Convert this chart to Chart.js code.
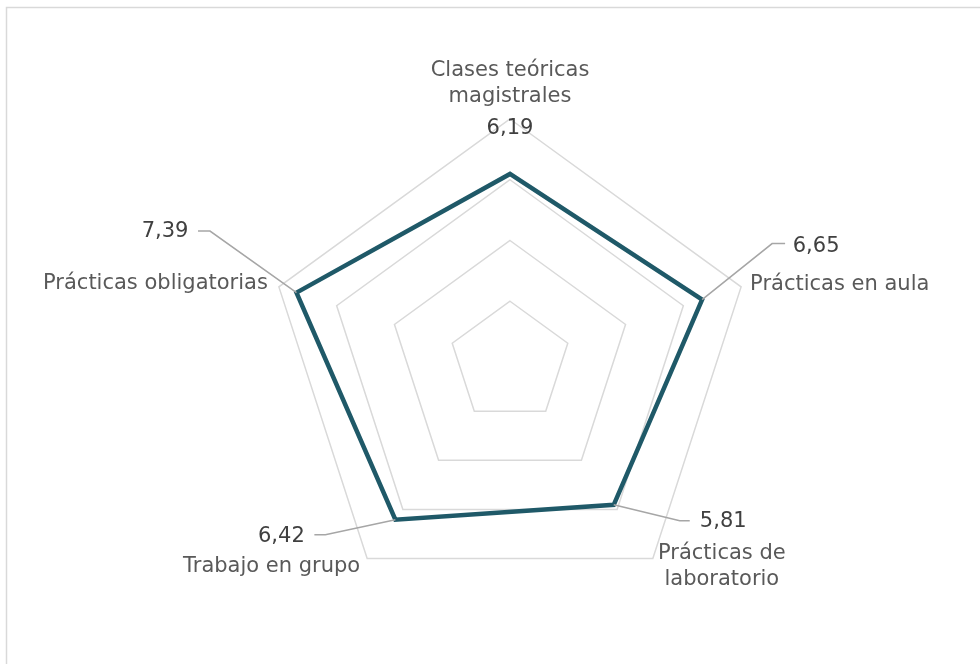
<!DOCTYPE html>
<html>
<head>
<meta charset="utf-8">
<script src="https://cdn.jsdelivr.net/npm/chart.js@4/dist/chart.umd.min.js"></script>
<style>
html,body{margin:0;padding:0;background:#fff;}
#wrap{position:relative;width:980px;height:664px;}
</style>
</head>
<body>
<div id="wrap"><canvas id="c"></canvas></div>
<script>
const categories = [["Clases teóricas","magistrales"],["Prácticas en aula"],["Prácticas de","laboratorio"],["Trabajo en grupo"],["Prácticas obligatorias"]];
const values = [6.19, 6.65, 5.81, 6.42, 7.39];
const valueLabels = ["6,19","6,65","5,81","6,42","7,39"];
const scaleMin = 0, scaleMax = 8, scaleStep = 2;

const FONT = '21px "DejaVu Sans", Verdana, sans-serif';

// label placement (style): value label offset from data point, leader elbow, category label offset from outer vertex
const valueLabelCfg = [
  {dx:0, dy:-45, leader:null},
  {dx:114, dy:-53, leader:[[70,-56],[83,-56]]},
  {dx:109.5, dy:16.5, leader:[[66,16],[76,16]]},
  {dx:-114, dy:16.5, leader:[[-70,15],[-81,15]]},
  {dx:-131.5, dy:-61, leader:[[-86.5,-61.6],[-98.5,-61.6]]}
];
const catLabelCfg = [
  {dx:0, dy:-35.5, align:'center'},
  {dx:9, dy:-2, align:'left'},
  {dx:69, dy:8, align:'center'},
  {dx:-7, dy:8, align:'right'},
  {dx:-11, dy:-3, align:'right'}
];
const LINE_H = 25.5;

const labelPlugin = {
  id:'labels',
  beforeDraw(chart){
    const ctx = chart.ctx;
    ctx.save();
    ctx.strokeStyle = '#d9d9d9';
    ctx.lineWidth = 1.5;
    ctx.strokeRect(6.5, 7.5, 1000, 700);
    ctx.restore();
  },
  afterDatasetsDraw(chart){
    const ctx = chart.ctx;
    const scale = chart.scales.r;
    ctx.save();
    ctx.font = FONT;
    ctx.textBaseline = 'middle';
    categories.forEach((lines, i) => {
      const p = scale.getPointPositionForValue(i, scaleMax);
      const c = catLabelCfg[i];
      ctx.fillStyle = '#595959';
      ctx.textAlign = c.align;
      const y0 = p.y + c.dy - (lines.length - 1) * LINE_H / 2;
      lines.forEach((t, k) => ctx.fillText(t, p.x + c.dx, y0 + k * LINE_H));
    });
    values.forEach((v, i) => {
      const p = scale.getPointPositionForValue(i, v);
      const c = valueLabelCfg[i];
      if (c.leader) {
        ctx.strokeStyle = '#a6a6a6';
        ctx.lineWidth = 1.5;
        ctx.beginPath();
        ctx.moveTo(p.x, p.y);
        c.leader.forEach(q => ctx.lineTo(p.x + q[0], p.y + q[1]));
        ctx.stroke();
      }
      ctx.fillStyle = '#404040';
      ctx.textAlign = 'center';
      ctx.fillText(valueLabels[i], p.x + c.dx, p.y + c.dy);
    });
    ctx.restore();
  }
};

new Chart(document.getElementById('c'), {
  type:'radar',
  data:{
    labels: categories,
    datasets:[{
      data: values,
      borderColor:'#1f5968',
      borderWidth:4.5,
      backgroundColor:'rgba(0,0,0,0)',
      fill:false,
      pointRadius:0,
      pointHoverRadius:0,
      tension:0,
      borderJoinStyle:'miter'
    }]
  },
  options:{
    responsive:true,
    maintainAspectRatio:false,
    animation:false,
    events:[],
    layout:{padding:{top:119,bottom:59,left:267,right:227}},
    plugins:{legend:{display:false},tooltip:{enabled:false}},
    scales:{
      r:{
        min:scaleMin, max:scaleMax,
        ticks:{display:false, stepSize:scaleStep},
        grid:{color:'#d9d9d9', lineWidth:1.5},
        angleLines:{display:false},
        pointLabels:{display:false}
      }
    }
  },
  plugins:[labelPlugin]
});
</script>
</body>
</html>
